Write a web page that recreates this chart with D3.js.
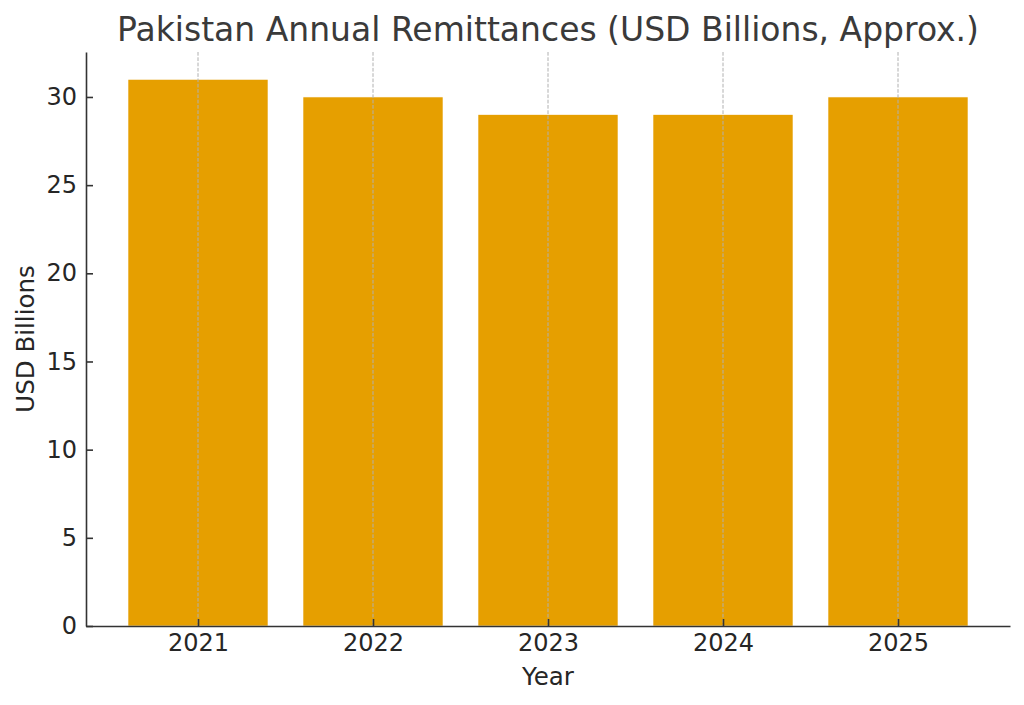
<!DOCTYPE html>
<html><head><meta charset="utf-8">
<script src="https://cdn.jsdelivr.net/npm/d3@7"></script>
<style>body{margin:0;background:#fff}svg{display:block}text{font-family:"DejaVu Sans",sans-serif}</style>
</head><body><svg id="c" width="1024" height="705"></svg>
<script>
const years = ["2021","2022","2023","2024","2025"];
const remittances = [31, 30, 29, 29, 30];
const yTicks = [0,5,10,15,20,25,30];

const svg = d3.select("#c");
const L = 86, R = 1010, T = 52, B = 626;
const x = d3.scaleLinear().domain([-0.64, 4.64]).range([L, R]);
const y = d3.scaleLinear().domain([0, 32.55]).range([B, T]);
const bw = 0.8;
const ink = "#333333";

svg.append("g").selectAll("rect").data(remittances).join("rect")
  .attr("x", (d,i)=>x(i-bw/2)).attr("width", x(bw)-x(0))
  .attr("y", d=>y(d)).attr("height", d=>B-y(d))
  .attr("fill","#E69F00").attr("stroke","#fff").attr("stroke-width",0.6);

// vertical grid
svg.append("g").selectAll("line").data(years).join("line")
  .attr("x1",(d,i)=>x(i)).attr("x2",(d,i)=>x(i)).attr("y1",T).attr("y2",B)
  .attr("stroke","#b0b0b0").attr("stroke-width",1).attr("stroke-dasharray","3.7,1.6");

const xAxis = d3.axisBottom(x).tickValues(d3.range(years.length)).tickFormat(i=>years[i]).tickSizeInner(-7).tickSizeOuter(0).tickPadding(8);
const gx = svg.append("g").attr("transform",`translate(0,${B})`).call(xAxis);
const yAxis = d3.axisLeft(y).tickValues(yTicks).tickSizeInner(-7).tickSizeOuter(0).tickPadding(9);
const gy = svg.append("g").attr("transform",`translate(${L},0)`).call(yAxis);
[gx,gy].forEach(g=>{
  g.attr("font-size",null).attr("font-family",null);
  g.select(".domain").attr("stroke",ink).attr("stroke-width",1.6);
  g.selectAll(".tick line").attr("stroke",ink).attr("stroke-width",1.6);
  g.selectAll(".tick text").attr("fill","#262626").attr("font-size","24px").attr("font-family","DejaVu Sans");
});

svg.append("text").attr("x",548).attr("y",41).attr("text-anchor","middle")
  .attr("fill","#3a3a3a").attr("font-size","33px").text("Pakistan Annual Remittances (USD Billions, Approx.)");
svg.append("text").attr("x",548).attr("y",685).attr("text-anchor","middle")
  .attr("fill","#262626").attr("font-size","24.5px").text("Year");
svg.append("text").attr("transform","translate(34,339) rotate(-90)").attr("text-anchor","middle")
  .attr("fill","#262626").attr("font-size","24.5px").text("USD Billions");
</script></body></html>
